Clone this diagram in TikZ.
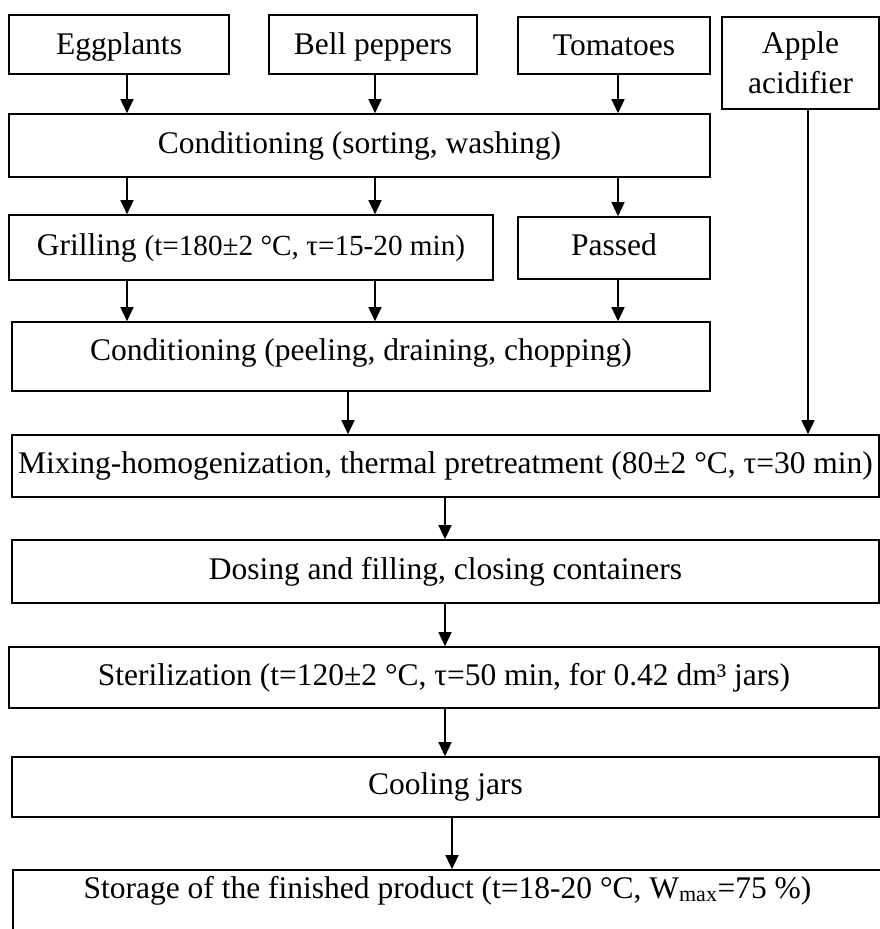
\documentclass[tikz,border=0pt]{standalone}
\usepackage{fontspec}
\setmainfont{Liberation Serif}
\usepackage{tikz}
\usetikzlibrary{arrows.meta,positioning}
\tikzset{
  stepbox/.style={draw, line width=1.6pt, align=center, inner sep=0pt,
                  font=\fontsize{31.5pt}{40pt}\selectfont},
  oneline/.style={stepbox, text height=22pt, text depth=7pt},
  srcbox/.style={oneline, text depth=3pt},
  flow/.style={-{Triangle[length=14pt,width=13pt]}, line width=1.3pt},
}
\newcommand{\parsmall}[1]{{\fontsize{29.2pt}{36pt}\selectfont #1}}

\begin{document}
\begin{tikzpicture}[x=1pt, y=-1pt]
\useasboundingbox (0,0) rectangle (880,929);

% ---- raw materials -------------------------------------------------
\node[srcbox, minimum width=220pt, minimum height=59pt] (egg)  at (119,44.5) {Eggplants};
\node[srcbox, minimum width=208pt, minimum height=59pt] (bell) at (373,44.5) {Bell peppers};
\node[srcbox, minimum width=192pt, minimum height=57pt] (tom)  at (614,45.5) {Tomatoes};
\node[stepbox, minimum width=157pt, minimum height=92pt] (apple) at (800.5,63) {Apple\\ acidifier};

% ---- preparation ---------------------------------------------------
\node[oneline, minimum width=701pt, minimum height=63pt] (cond1) at (359.5,145.5)
     {Conditioning (sorting, washing)};
\node[oneline, minimum width=484pt, minimum height=65pt] (grill) at (251,247.5)
     {Grilling \parsmall{(t=180±2 °C, τ=15-20 min)}};
\node[oneline, minimum width=192pt, minimum height=62pt] (passed) at (614,248) {Passed};
\node[oneline, text depth=15pt, minimum width=698pt, minimum height=69pt] (cond2) at (361,356.5)
     {Conditioning (peeling, draining, chopping)};

% ---- processing ----------------------------------------------------
\node[oneline, minimum width=867pt, minimum height=62pt] (mix) at (445.5,466)
     {Mixing-homogenization, thermal pretreatment (80±2 °C, τ=30 min)};
\node[oneline, minimum width=867pt, minimum height=63pt] (dose) at (445.5,571.5)
     {Dosing and filling, closing containers};
\node[oneline, minimum width=870pt, minimum height=61pt] (steril) at (444,677.5)
     {Sterilization (t=120±2 °C, τ=50 min, for 0.42 dm³ jars)};
\node[oneline, minimum width=867pt, minimum height=60pt] (cool) at (445.5,787) {Cooling jars};
\node[oneline, text depth=31pt, minimum width=869pt, minimum height=65pt] (store) at (447.5,902.5)
     {Storage of the finished product (t=18-20 °C, W\textsubscript{max}=75 \%)};

% ---- connectors ----------------------------------------------------
\coordinate (cA) at (127,0);
\coordinate (cB) at (375,0);
\coordinate (cC) at (618,0);
\coordinate (cD) at (808,0);
\coordinate (cP) at (348,0);
\coordinate (cM) at (445,0);
\coordinate (cS) at (452,0);

\foreach \src/\col in {egg/cA, bell/cB, tom/cC}
  \draw[flow] (\src.south -| \col) -- (cond1.north -| \col);
\foreach \dst/\col in {grill/cA, grill/cB, passed/cC}
  \draw[flow] (cond1.south -| \col) -- (\dst.north -| \col);
\foreach \src/\col in {grill/cA, grill/cB, passed/cC}
  \draw[flow] (\src.south -| \col) -- (cond2.north -| \col);
\draw[flow] (cond2.south -| cP) -- (mix.north -| cP);
\draw[flow] (apple.south -| cD) -- (mix.north -| cD);
\draw[flow] (mix.south -| cM) -- (dose.north -| cM);
\draw[flow] (dose.south -| cM) -- (steril.north -| cM);
\draw[flow] (steril.south -| cM) -- (cool.north -| cM);
\draw[flow] (cool.south -| cS) -- (store.north -| cS);
\end{tikzpicture}
\end{document}
